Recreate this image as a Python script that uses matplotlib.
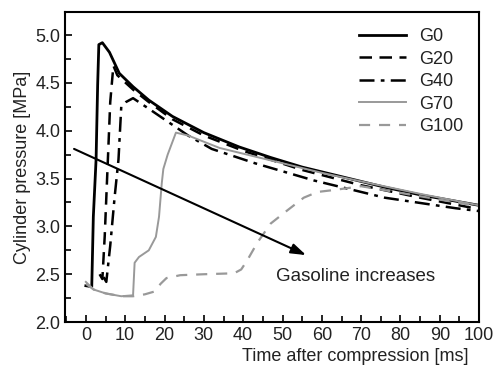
import matplotlib
matplotlib.use("Agg")
import matplotlib.pyplot as plt
from matplotlib.ticker import MultipleLocator

plt.rcParams['font.family'] = ['Liberation Sans', 'DejaVu Sans']

# data (time [ms], pressure [MPa])
g0_t = [0, 1.5, 1.6, 1.9, 2.6, 3.0, 3.3, 4.2, 6, 8.5, 12, 16, 22, 30, 39, 47, 55, 60, 70, 76, 85, 100]
g0_p = [2.38, 2.37, 2.55, 3.1, 3.7, 4.48, 4.9, 4.92, 4.82, 4.6, 4.46, 4.32, 4.15, 3.98, 3.83, 3.72, 3.62, 3.57, 3.47, 3.41, 3.33, 3.22]

g20_t = [3.5, 4.2, 4.8, 5.5, 6.2, 7.0, 8, 12, 16, 22, 30, 40, 55, 70, 85, 100]
g20_p = [2.50, 2.45, 2.9, 3.6, 4.3, 4.68, 4.58, 4.43, 4.30, 4.12, 3.95, 3.79, 3.59, 3.43, 3.30, 3.18]

g40_t = [4.5, 5.2, 6.2, 7.3, 8.3, 9.0, 10.2, 12, 16, 21, 26, 32, 43, 58, 76, 94, 100]
g40_p = [2.47, 2.42, 2.8, 3.3, 3.7, 4.25, 4.30, 4.34, 4.23, 4.09, 3.95, 3.81, 3.66, 3.48, 3.30, 3.19, 3.16]

g70_t = [0, 2, 5, 9, 12, 12.4, 13.5, 16, 17.8, 18.6, 19.3, 19.7, 20.8, 22.9, 26, 34, 42, 50, 60, 70, 85, 100]
g70_p = [2.42, 2.34, 2.30, 2.27, 2.28, 2.62, 2.68, 2.75, 2.89, 3.10, 3.45, 3.60, 3.75, 3.98, 3.95, 3.82, 3.74, 3.66, 3.56, 3.47, 3.34, 3.22]

g100_t = [0, 2, 5, 9, 12, 15, 17.5, 19, 20.5, 24, 30, 37.7, 39.5, 41.1, 43.6, 47, 51.3, 55.4, 58.9, 63, 70, 80, 90, 100]
g100_p = [2.40, 2.34, 2.30, 2.27, 2.27, 2.29, 2.32, 2.40, 2.46, 2.49, 2.50, 2.51, 2.55, 2.65, 2.83, 3.03, 3.17, 3.30, 3.36, 3.38, 3.42, 3.35, 3.28, 3.21]

fig = plt.figure(figsize=(5.02, 3.66), dpi=100)
ax = fig.add_axes([0.1295, 0.12, 0.825, 0.847])
tc = "#222222"
fs = 13

ax.plot(g0_t, g0_p, "-", color="black", lw=2.0, label="G0")
ax.plot(g20_t, g20_p, color="black", lw=1.8, dashes=(5, 3), label="G20")
ax.plot(g40_t, g40_p, color="black", lw=1.8, dashes=(6, 2.5, 1.5, 2.5), label="G40")
ax.plot(g70_t, g70_p, "-", color="#999999", lw=1.4, label="G70")
ax.plot(g100_t, g100_p, color="#999999", lw=1.6, dashes=(5, 4), label="G100")

ax.annotate("", xy=(56, 2.70), xytext=(-3, 3.81),
            arrowprops=dict(arrowstyle="-|>,head_length=0.9,head_width=0.3",
                            color="black", lw=1.5, shrinkA=0, shrinkB=0))
ax.text(48.3, 2.48, "Gasoline increases", fontsize=13.5, color=tc, va="center")

ax.set_xlim(-5.3, 100)
ax.set_ylim(2.0, 5.24)
ax.xaxis.set_major_locator(MultipleLocator(10))
ax.xaxis.set_minor_locator(MultipleLocator(5))
ax.yaxis.set_major_locator(MultipleLocator(0.5))
ax.yaxis.set_minor_locator(MultipleLocator(0.25))
ax.tick_params(which="both", direction="in", labelsize=fs, colors="black",
               labelcolor=tc, width=1.2)
ax.tick_params(which="major", length=5)
ax.tick_params(which="minor", length=4)
ax.yaxis.set_major_formatter(plt.FormatStrFormatter("%.1f"))
for s in ax.spines.values():
    s.set_linewidth(1.5)

ax.set_xlabel("Time after compression [ms]", fontsize=fs, color=tc, labelpad=0)
ax.xaxis.set_label_coords(0.70, -0.085, transform=ax.transAxes)
ax.set_ylabel("Cylinder pressure [MPa]", fontsize=fs, color=tc, labelpad=3)

ax.legend(loc="upper right", frameon=False, fontsize=fs, handlelength=2.6,
          handletextpad=0.7, labelspacing=0.3, borderaxespad=0.5, labelcolor=tc)

fig.savefig("out.png", dpi=100)
